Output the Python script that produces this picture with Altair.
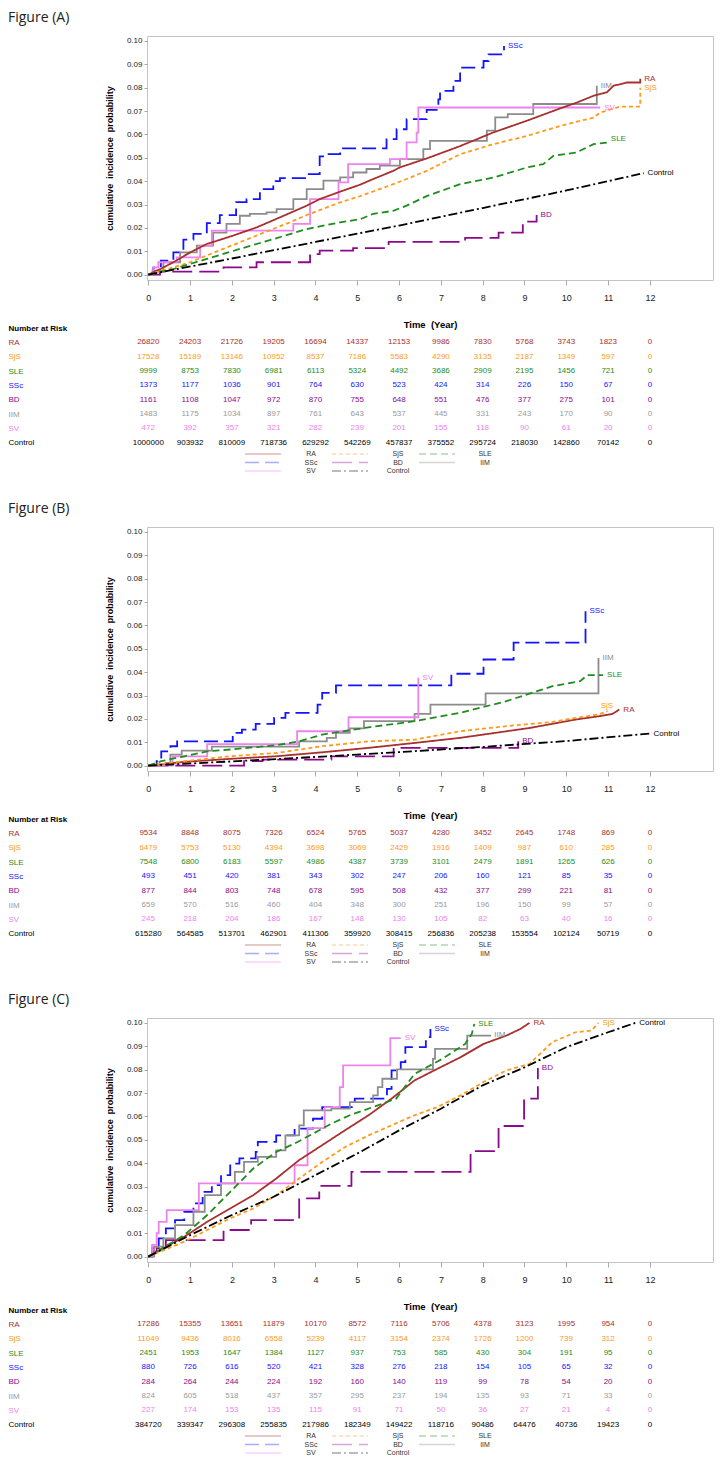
import altair as alt
import pandas as pd

SERIES = ["RA", "SjS", "SLE", "SSc", "BD", "IIM", "SV", "Control"]
LINE_COLORS = ["#a8302f", "#ff9a1a", "#1e8c1e", "#1414ff", "#8b0a8b", "#8c8c8c", "#ee82ee", "#000000"]
TEXT_COLORS = ["#a8302f", "#ff9a1a", "#1e8c1e", "#1414ff", "#8b0a8b", "#9a9a9a", "#ee82ee", "#000000"]
DASHES = [[1, 0], [4, 3], [7, 4], [14, 6], [20, 7], [1, 0], [1, 0], [9, 3, 2, 3]]
STEP_SERIES = ["SSc", "BD", "IIM", "SV"]
YEARS = list(range(13))
Y_TICKS = [0.0, 0.01, 0.02, 0.03, 0.04, 0.05, 0.06, 0.07, 0.08, 0.09, 0.10]
HEADER = "Number at Risk"

# ---------------- Figure (A) ----------------
CURVES_A = {
    "RA": [(0, 0), (0.3, 0.0025), (0.6, 0.0053), (1.0, 0.0095), (1.4, 0.0131), (2.03, 0.0167), (2.59, 0.0202),
           (3.15, 0.0245), (3.79, 0.0295), (4.1, 0.0323), (4.59, 0.0355), (5.07, 0.0385), (5.38, 0.0409),
           (5.86, 0.0444), (6.02, 0.0459), (6.66, 0.0497), (7.46, 0.055), (8.25, 0.0608), (9.05, 0.0658),
           (9.85, 0.0711), (10.25, 0.0736), (10.65, 0.0765), (10.97, 0.078), (11.13, 0.0808), (11.45, 0.0822),
           (11.77, 0.0822), (11.77, 0.0838)],
    "SjS": [(0, 0), (0.6, 0.0031), (1.0, 0.0053), (1.79, 0.011), (2.59, 0.0167), (3.39, 0.0224), (3.79, 0.0255),
            (4.59, 0.0309), (5.07, 0.0336), (5.86, 0.0387), (6.18, 0.0409), (6.66, 0.0444), (7.46, 0.0515),
            (8.25, 0.0558), (9.05, 0.0593), (9.85, 0.0636), (10.65, 0.0672), (10.81, 0.0693), (11.29, 0.0719),
            (11.77, 0.0719), (11.77, 0.080)],
    "SLE": [(0, 0), (0.6, 0.0024), (1.4, 0.0067), (2.19, 0.011), (2.99, 0.0152), (3.79, 0.0195), (4.59, 0.0224),
            (5.07, 0.0237), (5.38, 0.026), (5.86, 0.0273), (6.18, 0.0295), (6.66, 0.0336), (7.46, 0.0387),
            (8.25, 0.0415), (9.05, 0.0458), (9.45, 0.0473), (9.69, 0.0508), (10.25, 0.0523), (10.65, 0.0558),
            (10.97, 0.0565), (10.97, 0.058)],
    "SSc": [(0, 0), (0.12, 0.003), (0.3, 0.006), (0.6, 0.0095), (0.84, 0.015), (1.08, 0.0174), (1.4, 0.022),
            (1.71, 0.0255), (2.1, 0.031), (2.35, 0.0323), (2.67, 0.0366), (2.99, 0.040), (3.15, 0.0413),
            (3.75, 0.043), (4.1, 0.0506), (4.27, 0.0516), (4.59, 0.054), (5.7, 0.058), (5.94, 0.0622),
            (6.18, 0.0665), (6.66, 0.0705), (6.94, 0.075), (6.98, 0.0786), (7.3, 0.0829), (7.46, 0.0886),
            (8.02, 0.0914), (8.14, 0.0942), (8.51, 0.0978)],
    "BD": [(0, 0), (0.28, 0.0013), (1.8, 0.0031), (2.59, 0.0053), (3.87, 0.0088), (4.1, 0.0103), (4.9, 0.0113),
           (5.75, 0.014), (7.58, 0.0157), (8.38, 0.018), (8.96, 0.0227), (9.29, 0.0255)],
    "IIM": [(0, 0), (0.1, 0.0017), (0.36, 0.0053), (0.76, 0.0095), (1.16, 0.0124), (1.55, 0.018), (1.87, 0.0217),
            (2.19, 0.0252), (2.43, 0.026), (2.83, 0.0266), (3.07, 0.028), (3.47, 0.0323), (3.79, 0.0366),
            (4.19, 0.0402), (4.59, 0.0416), (4.9, 0.0437), (5.22, 0.0452), (5.54, 0.0466), (6.02, 0.0494),
            (6.58, 0.0537), (6.74, 0.0572), (8.1, 0.0616), (8.3, 0.0673), (8.6, 0.0687), (9.21, 0.073),
            (10.73, 0.0808)],
    "SV": [(0, 0), (0.12, 0.0031), (0.24, 0.0053), (0.68, 0.0074), (1.24, 0.0124), (1.52, 0.0188), (3.47, 0.0217),
           (3.87, 0.0323), (4.55, 0.0395), (4.78, 0.0473), (5.78, 0.0494), (6.18, 0.0566), (6.42, 0.0608),
           (6.46, 0.0715), (10.81, 0.0715)],
    "Control": [(0, 0), (2, 0.0069), (4, 0.014), (6, 0.021), (8, 0.0285), (10, 0.036), (11.85, 0.0434)],
}
RISK_A = {
    "RA": [26820, 24203, 21726, 19205, 16694, 14337, 12153, 9986, 7830, 5768, 3743, 1823, 0],
    "SjS": [17528, 15189, 13146, 10952, 8537, 7186, 5583, 4290, 3135, 2187, 1349, 597, 0],
    "SLE": [9999, 8753, 7830, 6981, 6113, 5324, 4492, 3686, 2909, 2195, 1456, 721, 0],
    "SSc": [1373, 1177, 1036, 901, 764, 630, 523, 424, 314, 226, 150, 67, 0],
    "BD": [1161, 1108, 1047, 972, 870, 755, 648, 551, 476, 377, 275, 101, 0],
    "IIM": [1483, 1175, 1034, 897, 761, 643, 537, 445, 331, 243, 170, 90, 0],
    "SV": [472, 392, 357, 321, 282, 239, 201, 155, 118, 90, 61, 20, 0],
    "Control": [1000000, 903932, 810009, 718736, 629292, 542269, 457837, 375552, 295724, 218030, 142860, 70142, 0],
}

# ---------------- Figure (B) ----------------
CURVES_B = {
    "RA": [(0, 0), (0.86, 0.0016), (1.96, 0.0029), (3.06, 0.004), (4.16, 0.0057), (5.27, 0.0076), (6.37, 0.0097),
           (7.47, 0.0119), (8.57, 0.0147), (9.12, 0.0161), (9.67, 0.0179), (10.22, 0.0197), (10.77, 0.0211),
           (11.1, 0.0221), (11.27, 0.024)],
    "SjS": [(0, 0), (0.86, 0.0019), (1.96, 0.004), (3.06, 0.0054), (4.16, 0.0083), (5.27, 0.0104), (6.37, 0.0111),
            (7.47, 0.0147), (8.57, 0.0169), (9.67, 0.0187), (10.22, 0.0204), (10.77, 0.0219), (10.99, 0.0233)],
    "SLE": [(0, 0), (0.31, 0.0019), (0.86, 0.004), (1.41, 0.0061), (1.96, 0.0069), (3.06, 0.0087), (3.61, 0.0104),
            (4.16, 0.0133), (5.27, 0.0164), (6.37, 0.019), (7.47, 0.0226), (8.57, 0.0276), (9.67, 0.034),
            (10.33, 0.0361), (10.5, 0.0387), (10.88, 0.0387)],
    "SSc": [(0, 0), (0.2, 0.0019), (0.31, 0.0061), (0.53, 0.0083), (0.69, 0.0104), (2.02, 0.014), (2.24, 0.0154),
            (2.57, 0.0179), (3.01, 0.0204), (3.28, 0.0226), (4.05, 0.0261), (4.16, 0.0311), (4.49, 0.0343),
            (7.25, 0.0393), (8.02, 0.0454), (8.74, 0.0526), (10.46, 0.0661)],
    "BD": [(0, 0), (2.29, 0.0019), (2.73, 0.0026), (4.38, 0.004), (5.87, 0.0076), (8.85, 0.0104)],
    "IIM": [(0, 0), (0.42, 0.0011), (0.53, 0.0047), (0.8, 0.0064), (1.52, 0.0081), (3.61, 0.0104), (4.27, 0.0119),
            (4.49, 0.014), (4.82, 0.0159), (5.16, 0.019), (6.37, 0.0221), (6.75, 0.0261), (8.07, 0.0309),
            (10.77, 0.0461)],
    "SV": [(0, 0), (0.58, 0.004), (1.41, 0.0092), (3.56, 0.0147), (4.79, 0.0207), (6.46, 0.0376)],
    "Control": [(0, 0), (2, 0.0018), (4, 0.0037), (6, 0.0058), (8, 0.008), (10, 0.0105), (11.99, 0.0137)],
}
RISK_B = {
    "RA": [9534, 8848, 8075, 7326, 6524, 5765, 5037, 4280, 3452, 2645, 1748, 869, 0],
    "SjS": [6479, 5753, 5130, 4394, 3698, 3069, 2429, 1916, 1409, 987, 610, 285, 0],
    "SLE": [7548, 6800, 6183, 5597, 4986, 4387, 3739, 3101, 2479, 1891, 1265, 626, 0],
    "SSc": [493, 451, 420, 381, 343, 302, 247, 206, 160, 121, 85, 35, 0],
    "BD": [877, 844, 803, 748, 678, 595, 508, 432, 377, 299, 221, 81, 0],
    "IIM": [659, 570, 516, 460, 404, 348, 300, 251, 196, 150, 99, 57, 0],
    "SV": [245, 218, 204, 186, 167, 148, 130, 105, 82, 63, 40, 16, 0],
    "Control": [615280, 564585, 513701, 462901, 411306, 359920, 308415, 256836, 205238, 153554, 102124, 50719, 0],
}

# ---------------- Figure (C) ----------------
CURVES_C = {
    "RA": [(0, 0), (0.86, 0.0085), (1.41, 0.0149), (1.96, 0.0206), (2.51, 0.0263), (3.06, 0.0334), (3.61, 0.0413),
           (4.16, 0.0477), (4.71, 0.0541), (5.27, 0.0605), (5.82, 0.0676), (6.37, 0.0754), (6.92, 0.0804),
           (7.47, 0.0853), (8.02, 0.091), (8.57, 0.0946), (8.9, 0.0974), (9.12, 0.1)],
    "SjS": [(0, 0), (0.86, 0.0064), (1.41, 0.0114), (1.96, 0.0164), (2.51, 0.0206), (3.06, 0.0263), (3.61, 0.0334),
            (4.16, 0.0405), (4.71, 0.0469), (5.27, 0.0519), (5.82, 0.0562), (6.37, 0.0605), (6.92, 0.064),
            (7.47, 0.069), (8.02, 0.0747), (8.57, 0.0797), (9.12, 0.0825), (9.67, 0.0918), (10.22, 0.096),
            (10.6, 0.0967), (10.77, 0.1)],
    "SLE": [(0, 0), (0.86, 0.0092), (1.41, 0.0178), (1.96, 0.0277), (2.51, 0.0377), (3.06, 0.0448), (3.5, 0.0484),
            (3.94, 0.0526), (4.38, 0.0569), (4.82, 0.0605), (5.49, 0.0647), (5.93, 0.0676), (6.37, 0.0782),
            (7.03, 0.0846), (7.58, 0.091), (7.74, 0.0953), (7.8, 0.0996)],
    "SSc": [(0, 0), (0.09, 0.0036), (0.25, 0.0078), (0.42, 0.0121), (0.64, 0.0156), (0.86, 0.0192), (1.08, 0.0228),
            (1.3, 0.0277), (1.52, 0.0306), (1.74, 0.0349), (1.96, 0.0398), (2.18, 0.042), (2.57, 0.0448),
            (2.62, 0.0491), (3.06, 0.0519), (3.5, 0.0548), (3.94, 0.059), (4.16, 0.064), (4.94, 0.0676),
            (5.71, 0.0718), (5.82, 0.0797), (6.04, 0.0832), (6.15, 0.0896), (6.64, 0.0939), (6.75, 0.0974)],
    "BD": [(0, 0), (0.09, 0.0021), (0.2, 0.0036), (0.42, 0.0071), (1.8, 0.0114), (2.46, 0.0156), (3.61, 0.0249),
           (4.09, 0.0303), (4.86, 0.0363), (7.71, 0.0451), (8.38, 0.0559), (8.99, 0.0676), (9.32, 0.0807)],
    "IIM": [(0, 0), (0.14, 0.0043), (0.36, 0.0078), (0.64, 0.0135), (1.08, 0.0192), (1.35, 0.0263), (1.74, 0.0313),
            (2.07, 0.0363), (2.29, 0.0405), (2.62, 0.0427), (3.06, 0.0455), (3.28, 0.0519), (3.61, 0.0562),
            (3.72, 0.0626), (4.38, 0.0633), (4.82, 0.0661), (5.38, 0.069), (5.49, 0.0725), (5.6, 0.0761),
            (5.95, 0.0801), (6.81, 0.0846), (6.86, 0.0889), (7.63, 0.0946), (8.18, 0.0949)],
    "SV": [(0, 0), (0.09, 0.005), (0.2, 0.01), (0.25, 0.0149), (0.44, 0.0199), (1.21, 0.0313), (3.5, 0.0391),
           (3.81, 0.055), (4.22, 0.064), (4.58, 0.0725), (4.66, 0.0818), (5.79, 0.0935), (6.04, 0.0935)],
    "Control": [(0, 0), (1, 0.0092), (2, 0.0178), (3, 0.0256), (4, 0.0349), (5, 0.0441), (6, 0.054), (7, 0.0633),
                (8, 0.0733), (9, 0.081), (10, 0.0896), (11, 0.096), (11.65, 0.1)],
}
RISK_C = {
    "RA": [17286, 15355, 13651, 11879, 10170, 8572, 7116, 5706, 4378, 3123, 1995, 954, 0],
    "SjS": [11049, 9436, 8016, 6558, 5239, 4117, 3154, 2374, 1726, 1200, 739, 312, 0],
    "SLE": [2451, 1953, 1647, 1384, 1127, 937, 753, 585, 430, 304, 191, 95, 0],
    "SSc": [880, 726, 616, 520, 421, 328, 276, 218, 154, 105, 65, 32, 0],
    "BD": [284, 264, 244, 224, 192, 160, 140, 119, 99, 78, 54, 20, 0],
    "IIM": [824, 605, 518, 437, 357, 295, 237, 194, 135, 93, 71, 33, 0],
    "SV": [227, 174, 153, 135, 115, 91, 71, 50, 36, 27, 21, 4, 0],
    "Control": [384720, 339347, 296308, 255835, 217986, 182349, 149422, 118716, 90486, 64476, 40736, 19423, 0],
}

# label nudges (style only): per panel, per series (dx, dy) in pixels
LABEL_NUDGE_B = {"SjS": (-7, -5)}

FONT = "Liberation Sans, Arial, sans-serif"
PLOT_W, PLOT_H = 566, 244
ROW_STEP = 14.33

x_scale = alt.Scale(domain=[-0.031, 13.51], nice=False, zero=False)
y_scale = alt.Scale(domain=[-0.0023, 0.1021], nice=False, zero=False)
c_scale = alt.Scale(domain=SERIES, range=LINE_COLORS)
d_scale = alt.Scale(domain=SERIES, range=DASHES)

label_color_cond = {
    "condition": [{"test": f"datum.value === '{s}'", "value": c} for s, c in zip(SERIES, TEXT_COLORS)],
    "value": "#000000",
}
label_weight_cond = {
    "condition": {"test": f"datum.value === '{HEADER}'", "value": "bold"},
    "value": "normal",
}

X_AXIS = alt.Axis(values=YEARS, format="d", title=None, labelFont=FONT, labelFontSize=9, labelColor="#222",
                  tickColor="#aaaaaa", tickSize=5, labelPadding=8, domain=False, grid=False)
Y_AXIS = alt.Axis(values=Y_TICKS, tickCount=11, format=".2f", title="cumulative\u00a0 incidence\u00a0 probability",
                  titleFont=FONT, titleFontSize=9, titleFontWeight="bold", titleColor="#000",
                  labelFont=FONT, labelFontSize=8, labelColor="#222", labelOverlap=False, labelBound=False,
                  labelFlush=False, tickColor="#aaaaaa", tickSize=3, labelPadding=2, titlePadding=12,
                  domain=False, grid=False)


def curve_frame(curves):
    rows = []
    for s in SERIES:
        for i, (t, p) in enumerate(curves[s]):
            rows.append({"series": s, "t": t, "p": p, "ord": i})
    return pd.DataFrame(rows)


def risk_frame(risk):
    rows = []
    for s, col in zip(SERIES, TEXT_COLORS):
        for t, n in zip(YEARS, risk[s]):
            rows.append({"series": s, "t": t, "n": n, "col": col})
    return pd.DataFrame(rows)


def panel(title, curves, risk, nudges):
    df = curve_frame(curves)
    ends = df.groupby("series", sort=False).tail(1)

    x_enc = alt.X("t:Q", scale=x_scale, axis=X_AXIS)
    y_enc = alt.Y("p:Q", scale=y_scale, axis=Y_AXIS)
    color_enc = alt.Color("series:N", scale=c_scale, legend=None)
    dash_enc = alt.StrokeDash("series:N", scale=d_scale, legend=None)

    base = alt.Chart(df)
    smooth = base.transform_filter(
        alt.FieldOneOfPredicate(field="series", oneOf=[s for s in SERIES if s not in STEP_SERIES])
    ).mark_line(strokeWidth=1.8, interpolate="linear").encode(
        x=x_enc, y=y_enc, color=color_enc, strokeDash=dash_enc, order="ord:Q")
    steps = base.transform_filter(
        alt.FieldOneOfPredicate(field="series", oneOf=STEP_SERIES)
    ).mark_line(strokeWidth=1.8, interpolate="step-after").encode(
        x=x_enc, y=y_enc, color=color_enc, strokeDash=dash_enc, order="ord:Q")

    plain = [s for s in SERIES if s not in nudges]
    label_layers = [
        alt.Chart(ends).transform_filter(alt.FieldOneOfPredicate(field="series", oneOf=plain))
        .mark_text(align="left", baseline="middle", dx=4, font=FONT, fontSize=8)
        .encode(x=x_enc, y=y_enc, text="series:N", color=color_enc)
    ]
    for s, (ndx, ndy) in nudges.items():
        label_layers.append(
            alt.Chart(ends).transform_filter(alt.FieldEqualPredicate(field="series", equal=s))
            .mark_text(align="left", baseline="middle", dx=ndx, dy=ndy, font=FONT, fontSize=8)
            .encode(x=x_enc, y=y_enc, text="series:N", color=color_enc)
        )
    plot = alt.layer(steps, smooth, *label_layers).properties(width=PLOT_W, height=PLOT_H)

    rdf = risk_frame(risk)
    n_rows = len(SERIES) + 1
    numbers = alt.Chart(rdf).mark_text(font=FONT, fontSize=8, baseline="middle").encode(
        x=alt.X("t:Q", scale=x_scale, axis=alt.Axis(
            orient="top", labels=False, ticks=False, domain=False, grid=False,
            title="Time\u00a0 (Year)", titleFont=FONT, titleFontSize=9.5, titleFontWeight="bold",
            titleColor="#000", titleY=3, titleBaseline="middle")),
        y=alt.Y("series:N", scale=alt.Scale(domain=[HEADER] + SERIES, type="point", padding=0.5),
                axis=alt.Axis(title=None, labelAlign="left", labelPadding=139, ticks=False, domain=False,
                              grid=False, labelFont=FONT, labelFontSize=8, labelColor=label_color_cond,
                              labelFontWeight=label_weight_cond)),
        text=alt.Text("n:Q", format="d"),
        color=alt.Color("col:N", scale=None),
    )
    leg = alt.Legend(orient="none", legendX=111, legendY=128, title=None, columns=3, direction="horizontal",
                     symbolType="M-4.5,0H4.5", symbolSize=64, symbolStrokeWidth=1.5, symbolOpacity=0.35,
                     labelFont=FONT, labelFontSize=7, labelColor="#333", labelAlign="center", labelOffset=43,
                     gridAlign="all", columnPadding=6, rowPadding=0.5)
    legend_layer = alt.Chart(rdf).transform_filter("false").mark_line(opacity=0.35).encode(
        x=alt.X("t:Q", scale=x_scale),
        y=alt.value(0),
        color=alt.Color("series:N", scale=c_scale, legend=leg),
        strokeDash=alt.StrokeDash("series:N", scale=d_scale, legend=leg),
    )
    table = alt.layer(numbers, legend_layer).properties(
        width=PLOT_W, height=ROW_STEP * n_rows, view=alt.ViewBackground(strokeOpacity=0))

    return alt.vconcat(
        plot, table, spacing=16,
        title=alt.Title(title, anchor="start", font="Open Sans", fontSize=14, fontWeight="normal",
                        color="#222", offset=11),
    ).resolve_scale(x="independent", y="independent", color="independent", strokeDash="independent"
    ).resolve_legend(color="independent", strokeDash="independent")


chart = alt.vconcat(
    panel("Figure (A)", CURVES_A, RISK_A, {}),
    panel("Figure (B)", CURVES_B, RISK_B, LABEL_NUDGE_B),
    panel("Figure (C)", CURVES_C, RISK_C, {}),
    spacing=27,
).resolve_scale(x="independent", y="independent", color="independent", strokeDash="independent"
).resolve_legend(color="independent", strokeDash="independent"
).properties(padding={"top": 2, "left": 0, "right": 0, "bottom": 0}
).configure_view(stroke="#c4c4c4", strokeWidth=1)

chart.save("out.html", embed_options={"renderer": "svg", "actions": False})
